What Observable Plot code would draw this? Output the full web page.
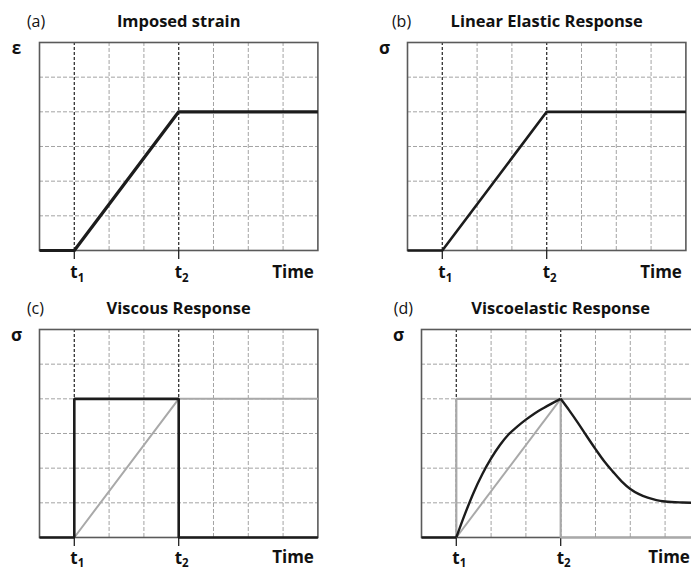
<!DOCTYPE html>
<html><head><meta charset="utf-8">
<script src="https://cdn.jsdelivr.net/npm/d3@7"></script>
<script src="https://cdn.jsdelivr.net/npm/@observablehq/plot@0.6"></script>
<style>
html,body{margin:0;padding:0;background:#fff;overflow:hidden;width:691px;height:571px}
#root{position:relative;width:691px;height:571px;overflow:hidden}
.panel{position:absolute}
</style></head><body><div id="root"></div>
<script>
// ---- data ----
const timeDomain = [0, 8];
const valueDomain = [0, 6];
const gridTimes = [1, 2, 3, 4, 5, 6, 7];
const gridValues = [1, 2, 3, 4, 5];
const eventTimes = [1, 4];
const eventNames = ["t", "t"];
const eventSubs = ["1", "2"];
const panelLetters = ["(a)", "(b)", "(c)", "(d)"];
const panelTitles = ["Imposed strain", "Linear Elastic Response", "Viscous Response", "Viscoelastic Response"];
const panelSymbols = ["ε", "σ", "σ", "σ"];
const axisTitle = "Time";

// (a) imposed strain
const strainTime = [0, 1, 4, 8];
const strainValue = [0, 0, 4, 4];
// (b) linear elastic
const elasticTime = [0, 1, 4, 8];
const elasticStress = [0, 0, 4, 4];
// (c) viscous
const viscousTime = [0, 1, 1, 4, 4, 8];
const viscousStress = [0, 0, 4, 4, 0, 0];
const rampTime = [1, 4, 8];
const rampValue = [0, 4, 4];
// (d) viscoelastic
const stepTime = [1, 1, 8];
const stepValue = [0, 4, 4];
const releaseTime = [4, 4, 8];
const releaseValue = [4, 0, 0];
const elasticRampTime = [1, 4];
const elasticRampValue = [0, 4];
const veBaseTime = [0, 1];
const veBaseStress = [0, 0];
const veRiseTime = [1, 1.25, 1.5, 1.75, 2, 2.25, 2.5, 2.75, 3, 3.25, 3.5, 3.75, 4];
const veRiseStress = [0, 0.68, 1.3, 1.83, 2.28, 2.66, 2.97, 3.2, 3.4, 3.58, 3.73, 3.87, 4.0];
const veDecayTime = [4, 4.25, 4.5, 4.75, 5, 5.25, 5.5, 5.75, 6, 6.25, 6.5, 6.75, 7, 7.5, 8];
const veDecayStress = [4.0, 3.66, 3.3, 2.92, 2.55, 2.2, 1.9, 1.62, 1.4, 1.25, 1.15, 1.08, 1.04, 1.01, 1.0];

// ---- styles ----
const BLACK = "#1c1c1c", GREY = "#a9a9a9";
const FONT = "'Open Sans', Lato, 'DejaVu Sans', sans-serif";

function line(xs, ys, o) {
  return Plot.line(ys, {x: xs, y: ys, strokeLinejoin: "round", strokeLinecap: "butt", ...o});
}

const panelLines = [
  [line(strainTime, strainValue, {stroke: BLACK, strokeWidth: 3.2})],
  [line(elasticTime, elasticStress, {stroke: BLACK, strokeWidth: 2.6})],
  [
    line(rampTime, rampValue, {stroke: GREY, strokeWidth: 2}),
    line(viscousTime, viscousStress, {stroke: BLACK, strokeWidth: 2.6, strokeLinejoin: "miter"})
  ],
  [
    line(stepTime, stepValue, {stroke: GREY, strokeWidth: 2.2, strokeLinejoin: "miter"}),
    line(releaseTime, releaseValue, {stroke: GREY, strokeWidth: 2.2, strokeLinejoin: "miter"}),
    line(elasticRampTime, elasticRampValue, {stroke: GREY, strokeWidth: 2}),
    line(veBaseTime, veBaseStress, {stroke: BLACK, strokeWidth: 2.6}),
    line(veRiseTime, veRiseStress, {stroke: BLACK, strokeWidth: 2.4, curve: "monotone-x"}),
    line(veDecayTime, veDecayStress, {stroke: BLACK, strokeWidth: 2.4, curve: "monotone-x"})
  ]
];

// layout: frame position of each panel
const frames = [
  {left: 39.3, top: 41.5, letterDx: -12.6, pad: 6.5, timeDy: 27.7, timeDx: -4},
  {left: 407.3, top: 42.2, letterDx: -15.6, pad: 6.5, timeDy: 27.7, timeDx: -4},
  {left: 39.3, top: 329, letterDx: -12.6, pad: 5, timeDy: 26, timeDx: -4},
  {left: 421, top: 329, letterDx: -27.7, pad: 5, timeDy: 26, timeDx: -10}
];

const mL = 40, mT = 42, mR = 12, mB = 34, W = 278.4, H = 208;
const root = document.getElementById("root");

frames.forEach((f, i) => {
  const chart = Plot.plot({
    width: mL + W + mR,
    height: mT + H + mB,
    marginLeft: mL, marginTop: mT, marginRight: mR, marginBottom: mB,
    x: {domain: timeDomain},
    y: {domain: valueDomain, axis: null},
    style: {fontFamily: FONT, background: "transparent", overflow: "visible", color: "#111"},
    marks: [
      Plot.gridX(gridTimes.filter(t => !eventTimes.includes(t)), {stroke: "#a3a3a3", strokeOpacity: 1, strokeWidth: 1, strokeDasharray: "4,2"}),
      Plot.gridY(gridValues, {stroke: "#a3a3a3", strokeOpacity: 1, strokeWidth: 1, strokeDasharray: "4,2"}),
      Plot.ruleX(eventTimes, {stroke: "#333", strokeWidth: 1.3, strokeDasharray: "3,2"}),
      Plot.frame({stroke: "#5a5a5a", strokeWidth: 1.6}),
      Plot.axisX(eventTimes, {
        tickSize: 9, tickPadding: f.pad, fontSize: 17, fontWeight: "bold", label: null,
        tickFormat: d => eventNames[eventTimes.indexOf(d)] + eventSubs[eventTimes.indexOf(d)],
        stroke: "#222", strokeWidth: 1.3
      }),
      ...panelLines[i],
      Plot.text([axisTitle], {frameAnchor: "bottom-right", textAnchor: "end", lineAnchor: "bottom", dx: f.timeDx, dy: f.timeDy, fontSize: 17, fontWeight: "bold"}),
      Plot.text([panelTitles[i]], {frameAnchor: "top", lineAnchor: "bottom", dy: -15.2, fontSize: 16.5, fontWeight: "bold"}),
      Plot.text([panelLetters[i]], {frameAnchor: "top-left", textAnchor: "start", lineAnchor: "bottom", dx: f.letterDx, dy: -15.6, fontSize: 16}),
      Plot.text([panelSymbols[i]], {frameAnchor: "top-left", textAnchor: "middle", lineAnchor: "bottom", dx: -23, dy: 12, fontSize: 17, fontWeight: "bold"})
    ]
  });
  // subscripts on tick labels
  chart.querySelectorAll('g[aria-label="x-axis tick label"] text').forEach(t => {
    const s = t.textContent;
    t.textContent = "";
    const a = document.createElementNS("http://www.w3.org/2000/svg", "tspan");
    a.textContent = s.slice(0, 1);
    const b = document.createElementNS("http://www.w3.org/2000/svg", "tspan");
    b.textContent = s.slice(1);
    b.setAttribute("font-size", "11.5");
    b.setAttribute("dy", "3.8");
    t.appendChild(a); t.appendChild(b);
    t.setAttribute("dx", "3");
  });
  chart.classList.add("panel");
  chart.style.left = (f.left - mL) + "px";
  chart.style.top = (f.top - mT) + "px";
  root.appendChild(chart);
});
</script>
</body></html>
